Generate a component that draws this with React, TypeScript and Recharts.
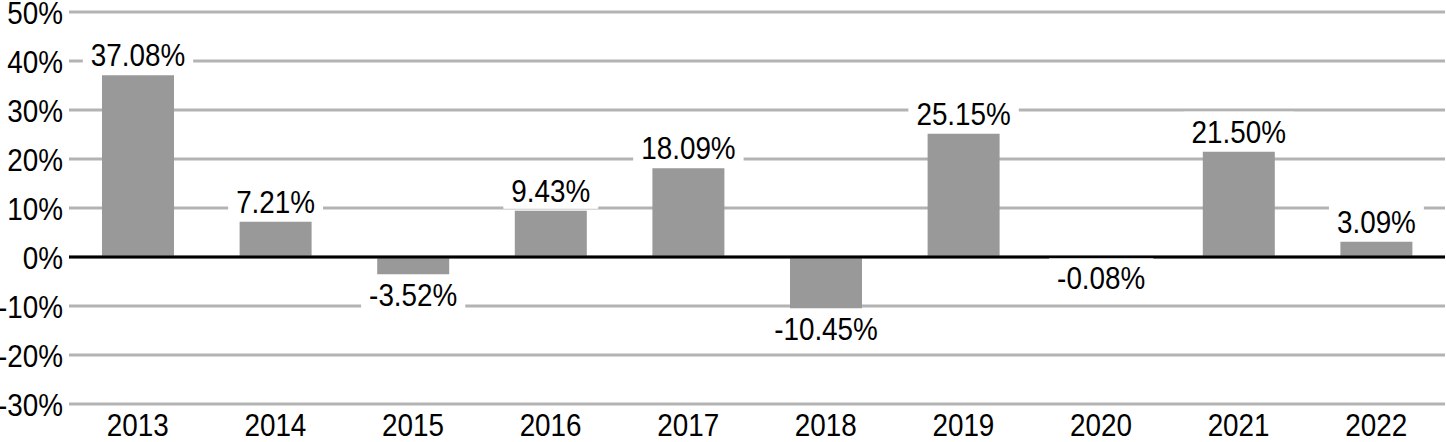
import React from "react";
import { BarChart, Bar, XAxis, YAxis, CartesianGrid, ReferenceLine, LabelList } from "recharts";

const years = ["2013", "2014", "2015", "2016", "2017", "2018", "2019", "2020", "2021", "2022"];
const returns = [37.08, 7.21, -3.52, 9.43, 18.09, -10.45, 25.15, -0.08, 21.5, 3.09];
const yTicks = [-30, -20, -10, 0, 10, 20, 30, 40, 50];

const data = years.map((year, i) => ({ year, value: returns[i] }));

const FONT = "'Liberation Sans', Arial, sans-serif";
const FS = 32;
const SX = 0.87; // squeeze to look like a condensed face

// rough width of a label after the squeeze
function textWidth(s: string) {
  let w = 0;
  for (const c of s) {
    if (c === ".") w += 0.278;
    else if (c === "%") w += 0.889;
    else if (c === "-") w += 0.333;
    else w += 0.556;
  }
  return w * FS * SX;
}

function NarrowText({ x, y, anchor, dy, children }: any) {
  return (
    <text
      transform={`translate(${x},${y}) scale(${SX},1)`}
      x={0}
      y={0}
      dy={dy}
      textAnchor={anchor}
      fontSize={FS}
      fontFamily={FONT}
      fill="#000"
    >
      {children}
    </text>
  );
}

function ValueLabel(props: any) {
  const { x, y, width, height, value } = props;
  const top = Math.min(y, y + height);
  const bottom = Math.max(y, y + height);
  const cx = x + width / 2;
  const txt = `${Number(value).toFixed(2)}%`;
  const baseline = value >= 0 ? top - 9 : bottom + 32;
  const w = textWidth(txt) + 16;
  return (
    <g>
      <rect x={cx - w / 2} y={baseline - 31} width={w} height={38} fill="#ffffff" />
      <NarrowText x={cx} y={baseline} anchor="middle">
        {txt}
      </NarrowText>
    </g>
  );
}

function XTick(props: any) {
  const { x, y, payload } = props;
  return (
    <NarrowText x={x} y={y} anchor="middle" dy="0.71em">
      {payload.value}
    </NarrowText>
  );
}

function YTick(props: any) {
  const { x, y, payload } = props;
  return (
    <NarrowText x={x} y={y} anchor="end" dy="0.36em">
      {`${payload.value}%`}
    </NarrowText>
  );
}

export default function App() {
  return (
    <div style={{ position: "absolute", left: 0, top: 0, background: "#fff" }}>
      <BarChart
        width={1446}
        height={442}
        data={data}
        margin={{ top: 12, right: 1, left: 0, bottom: 0 }}
        barSize={72}
      >
        <CartesianGrid vertical={false} stroke="#b3b3b3" strokeWidth={3} />
        <XAxis
          dataKey="year"
          height={38}
          axisLine={false}
          tickLine={false}
          tickSize={0}
          tickMargin={9}
          tick={XTick}
        />
        <YAxis
          width={69}
          domain={[-30, 50]}
          ticks={yTicks}
          interval={0}
          axisLine={false}
          tickLine={false}
          tickSize={0}
          tickMargin={6}
          tick={YTick}
        />
        <ReferenceLine y={0} stroke="#000" strokeWidth={3} />
        <Bar dataKey="value" fill="#999999" isAnimationActive={false}>
          <LabelList dataKey="value" content={ValueLabel} />
        </Bar>
      </BarChart>
    </div>
  );
}
